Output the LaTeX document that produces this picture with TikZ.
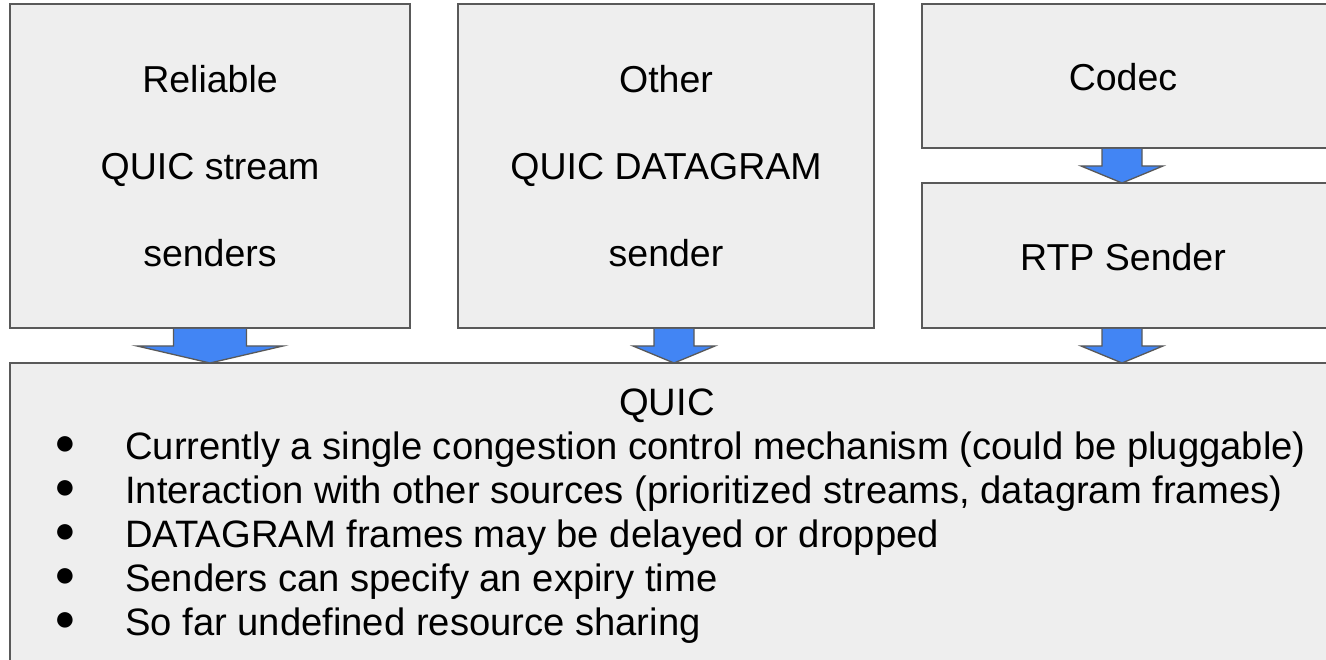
\documentclass[tikz,border=0pt]{standalone}
\usepackage{fontspec}
\setmainfont{Liberation Sans}
\usetikzlibrary{calc}
\definecolor{bordergray}{HTML}{595959}
\definecolor{boxfill}{HTML}{EEEEEE}
\definecolor{arrowblue}{HTML}{4285F4}
\newcommand{\blockarr}[5]{%
  \path[blockarrow] let \p1=(#2.south), \p2=(#3.north) in
    ({#1-#4},{\y1-0.85pt}) -- ({#1-#4},{\y2+17pt}) -- ({#1-#5},{\y2+17pt}) -- (#1,\y2)
    -- ({#1+#5},{\y2+17pt}) -- ({#1+#4},{\y2+17pt}) -- ({#1+#4},{\y1-0.85pt});}
\begin{document}
\begin{tikzpicture}[x=1pt,y=-1pt,
  box/.style={draw=bordergray, fill=boxfill, line width=1.7pt, inner sep=0pt, outer sep=0pt, anchor=north west},
  txt/.style={font=\fontsize{37.5}{87}\selectfont, align=center},
  itemtxt/.style={font=\fontsize{38.2}{45}\selectfont, anchor=base west, inner sep=0pt},
  bullettxt/.style={font=\fontsize{36}{45}\selectfont, anchor=center, inner sep=0pt},
  blockarrow/.style={draw=bordergray, fill=arrowblue, line width=1.3pt, line join=miter}]
\useasboundingbox (0,0) rectangle (1326,660);
\clip (0,0) rectangle (1326,660);
\node[box, txt, minimum width=400pt, minimum height=324pt] (rel) at (10,4) {Reliable\\QUIC stream\\senders};
\node[box, txt, minimum width=416pt, minimum height=324pt] (oth) at (458,4) {Other\\QUIC DATAGRAM\\sender};
\node[box, minimum width=408pt, minimum height=144pt] (codec) at (922,4) {};
\node[box, minimum width=408pt, minimum height=145pt] (rtp) at (922,183) {};
\node[txt] (codect) at (1123,77) {Codec};
\node[txt] (rtpt) at (1123,257) {RTP Sender};
\node[box, minimum width=1320pt, minimum height=340pt] (quic) at (10,363) {};
\blockarr{210}{rel}{quic}{36.5}{73}
\blockarr{674}{oth}{quic}{20}{41}
\blockarr{1122}{codec}{rtp}{20}{41}
\blockarr{1122}{rtp}{quic}{20}{41}
\node[itemtxt, anchor=base] (title) at (667,415) {QUIC};
\node[itemtxt] (i1) at (125,459) {Currently a single congestion control mechanism (could be pluggable)};
\node[itemtxt] (i2) at (125,503) {Interaction with other sources (prioritized streams, datagram frames)};
\node[itemtxt] (i3) at (125,547) {DATAGRAM frames may be delayed or dropped};
\node[itemtxt] (i4) at (125,591) {Senders can specify an expiry time};
\node[itemtxt] (i5) at (125,635) {So far undefined resource sharing};
\foreach \n/\yy in {b1/446,b2/490,b3/534,b4/578,b5/622}
  \node[bullettxt] (\n) at (65,\yy) {●};
\end{tikzpicture}
\end{document}
